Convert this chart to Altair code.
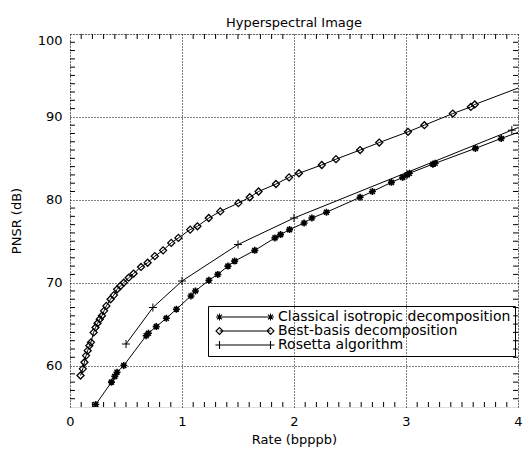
import altair as alt
import pandas as pd

# ---------------- data ----------------
series_names = ["Classical isotropic decomposition", "Best-basis decomposition", "Rosetta algorithm"]

classical_rate = [0.23, 0.37, 0.40, 0.42, 0.48, 0.68, 0.70, 0.77, 0.86, 0.95, 1.08, 1.12, 1.24,
                  1.32, 1.41, 1.47, 1.65, 1.83, 1.88, 1.96, 2.09, 2.16, 2.29, 2.59, 2.70, 2.87,
                  2.97, 3.01, 3.03, 3.24, 3.26, 3.62, 3.85, 4.20]
classical_psnr = [55.3, 58.0, 58.7, 59.2, 60.0, 63.6, 63.9, 64.7, 65.7, 66.8, 68.4, 69.0, 70.3,
                  71.0, 72.0, 72.6, 73.9, 75.4, 75.8, 76.4, 77.2, 77.8, 78.5, 80.3, 81.0, 82.1,
                  82.7, 83.0, 83.2, 84.3, 84.4, 86.2, 87.4, 89.1]

best_rate = [0.094, 0.114, 0.129, 0.143, 0.158, 0.173, 0.187, 0.211, 0.228, 0.246, 0.266, 0.285,
             0.304, 0.325, 0.362, 0.392, 0.421, 0.45, 0.48, 0.524, 0.568, 0.634, 0.693, 0.757,
             0.831, 0.904, 0.968, 1.073, 1.138, 1.239, 1.342, 1.503, 1.605, 1.684, 1.839, 1.956,
             2.044, 2.248, 2.375, 2.59, 2.761, 3.018, 3.164, 3.418, 3.579, 3.614, 4.20]
best_psnr = [58.8, 59.6, 60.4, 61.2, 61.8, 62.4, 62.8, 64.0, 64.6, 65.1, 65.6, 66.0,
             66.6, 67.2, 68.0, 68.5, 69.2, 69.6, 70.0, 70.6, 71.1, 71.9, 72.4, 73.2,
             73.9, 74.8, 75.4, 76.4, 76.8, 77.8, 78.6, 79.6, 80.3, 81.0, 81.9, 82.7,
             83.2, 84.2, 84.9, 86.0, 86.9, 88.2, 89.0, 90.4, 91.2, 91.5, 94.5]

rosetta_rate = [0.50, 0.74, 1.00, 1.50, 2.00, 3.945, 4.20]
rosetta_psnr = [62.6, 67.0, 70.2, 74.6, 77.8, 88.4, 89.8]

x_major = [0, 1, 2, 3, 4]
y_major = [60, 70, 80, 90, 100]
x_minor = [i / 10 for i in range(1, 40) if i % 10]
y_minor = [v for v in range(56, 100) if v % 10]

rows = []
for name, rs, ps in [(series_names[0], classical_rate, classical_psnr),
                     (series_names[1], best_rate, best_psnr),
                     (series_names[2], rosetta_rate, rosetta_psnr)]:
    for r, p in zip(rs, ps):
        rows.append({"rate": r, "psnr": p, "series": name})
df = pd.DataFrame(rows)
df_xm = pd.DataFrame({"rate": x_minor})
df_ym = pd.DataFrame({"psnr": y_minor})

# ---------------- styling ----------------
W, H = 448, 373
PAD_L, PAD_T = 62, 26
FONT = "DejaVu Sans"
FS = 13


def f(v):
    return f"{v:.3f}"


def star_at(cx, s):
    d = 0.71 * s
    return (f"M{f(cx-s)},0L{f(cx+s)},0M{f(cx)},{f(-s)}L{f(cx)},{f(s)}"
            f"M{f(cx-d)},{f(-d)}L{f(cx+d)},{f(d)}M{f(cx-d)},{f(d)}L{f(cx+d)},{f(-d)}")


def diamond_at(cx, s):
    return f"M{f(cx-s)},0L{f(cx)},{f(-s)}L{f(cx+s)},0L{f(cx)},{f(s)}Z"


def plus_at(cx, s):
    return f"M{f(cx-s)},0L{f(cx+s)},0M{f(cx)},{f(-s)}L{f(cx)},{f(s)}"


marker_paths = [star_at(0, 1.0), diamond_at(0, 1.0), plus_at(0, 1.15)]

L = 5.1  # half length of legend line (units of 5 px)
M = 0.7  # half size of legend markers


def legend_path(fn, m):
    return f"M{f(-L)},0L{f(L)},0" + fn(-L, m) + fn(L, m)


legend_paths = [legend_path(star_at, M), legend_path(diamond_at, M), legend_path(plus_at, M * 1.15)]

x_scale = alt.Scale(domain=[0, 4], nice=False, zero=False)
y_scale = alt.Scale(domain=[55, 100], nice=False, zero=False)

x_axis = alt.Axis(values=x_major, format="d", grid=True, gridDash=[1, 2], gridColor="black",
                  gridOpacity=1, domain=False, ticks=False, labelPadding=8, labelFontSize=FS,
                  labelFont=FONT, labelColor="black", labelFlush=False, title="Rate (bpppb)",
                  titleFont=FONT, titleFontSize=FS, titleFontWeight="normal", titleColor="black",
                  titlePadding=5)
y_axis = alt.Axis(values=y_major, format="d", grid=True, gridDash=[1, 2], gridColor="black",
                  gridOpacity=1, domain=False, ticks=False, labelPadding=8, labelFontSize=FS,
                  labelFont=FONT, labelColor="black", labelFlush=False,
                  labelBaseline={"condition": {"test": "datum.value >= 100", "value": "top"},
                                 "value": "middle"},
                  title="PNSR (dB)",
                  titleFont=FONT, titleFontSize=FS, titleFontWeight="normal", titleColor="black",
                  titlePadding=14)

X = alt.X("rate:Q", scale=x_scale, axis=x_axis)
Y = alt.Y("psnr:Q", scale=y_scale, axis=y_axis)

lines = alt.Chart(df).mark_line(color="black", strokeWidth=1, clip=True).encode(
    x=X, y=Y, detail="series:N", order="rate:Q",
)

points = alt.Chart(df).mark_point(filled=False, color="black", size=49, clip=True, opacity=1).encode(
    x=X, y=Y,
    shape=alt.Shape("series:N", scale=alt.Scale(domain=series_names, range=marker_paths), legend=None),
    strokeWidth=alt.StrokeWidth("series:N", scale=alt.Scale(domain=series_names, range=[1.6, 1.0, 1.2]),
                                legend=None),
)

legend_layer = alt.Chart(df).transform_filter("false").mark_point(
    filled=False, color="black", opacity=1).encode(
    shape=alt.Shape("series:N", scale=alt.Scale(domain=series_names, range=legend_paths),
                    legend=alt.Legend(orient="none", legendX=138, legendY=272, title=None,
                                      strokeColor="black", padding=4, symbolSize=100,
                                      symbolOffset=26, labelOffset=26, labelFont=FONT,
                                      labelFontSize=14, labelColor="black", rowPadding=0,
                                      symbolStrokeColor="black", symbolFillColor="transparent",
                                      symbolStrokeWidth=1.1, labelLimit=400)),
)

tick_left = alt.Chart(df_ym).mark_rule(color="black", strokeWidth=1).encode(
    y=Y, x=alt.value(0), x2=alt.value(5))
tick_right = alt.Chart(df_ym).mark_rule(color="black", strokeWidth=1).encode(
    y=Y, x=alt.value(W - 5), x2=alt.value(W))
tick_bottom = alt.Chart(df_xm).mark_rule(color="black", strokeWidth=1).encode(
    x=X, y=alt.value(H - 5), y2=alt.value(H))
tick_top = alt.Chart(df_xm).mark_rule(color="black", strokeWidth=1).encode(
    x=X, y=alt.value(0), y2=alt.value(5))

chart = alt.layer(
    lines, tick_left, tick_right, tick_bottom, tick_top, points, legend_layer
).resolve_scale(shape="independent", strokeWidth="independent").properties(
    width=W, height=H,
    title=alt.TitleParams("Hyperspectral Image", font=FONT, fontSize=FS, fontWeight="normal",
                          color="black", offset=4, anchor="middle"),
    autosize=alt.AutoSizeParams(type="none"),
    padding={"left": PAD_L, "top": PAD_T, "right": 5, "bottom": 41},
).configure_view(stroke="black", strokeWidth=1).configure(background="white")

chart.save("out.html", embed_options={"renderer": "svg", "actions": False})
